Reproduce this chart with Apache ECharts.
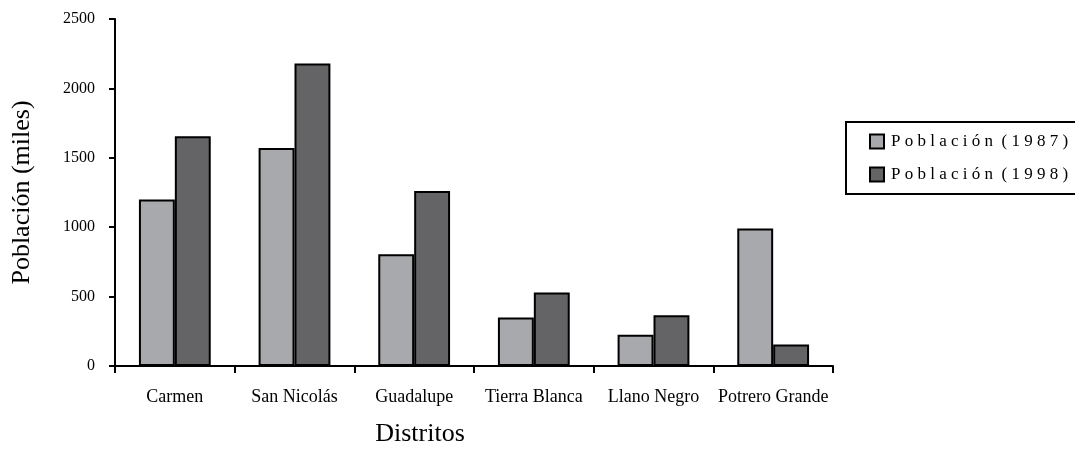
<!DOCTYPE html>
<html>
<head>
<meta charset="utf-8">
<script src="https://cdn.jsdelivr.net/npm/echarts@6/dist/echarts.min.js"></script>
<style>html,body{margin:0;padding:0;background:#fff;}#c{width:1075px;height:454px;}</style>
</head>
<body>
<div id="c"></div>
<script>
const categories = ['Carmen', 'San Nicolás', 'Guadalupe', 'Tierra Blanca', 'Llano Negro', 'Potrero Grande'];
const pop1987 = [1200, 1570, 805, 350, 225, 990];
const pop1998 = [1655, 2180, 1260, 530, 365, 155];
const seriesNames = ['P o b l a c i ó n  ( 1 9 8 7 )', 'P o b l a c i ó n  ( 1 9 9 8 )'];
const yTicks = [0, 500, 1000, 1500, 2000, 2500];

const font = 'Liberation Serif';
const chart = echarts.init(document.getElementById('c'));
chart.setOption({
  animation: false,
  backgroundColor: '#fff',
  grid: { left: 115, right: 242, top: 19, bottom: 88, containLabel: false, outerBoundsMode: 'none' },
  legend: {
    orient: 'vertical',
    left: 846, top: 122,
    padding: [11, 30, 11, 23],
    itemGap: 16,
    itemWidth: 14, itemHeight: 14,
    borderColor: '#000', borderWidth: 2,
    icon: 'rect',
    itemStyle: { borderColor: '#000', borderWidth: 2 },
    textStyle: { fontFamily: font, fontSize: 17, color: '#000', padding: [0, 0, 0, 2] },
    data: seriesNames
  },
  xAxis: {
    type: 'category',
    data: categories,
    boundaryGap: true,
    axisLine: { lineStyle: { color: '#000', width: 2 } },
    axisTick: { show: true, length: 7, alignWithLabel: false, lineStyle: { color: '#000', width: 2 } },
    axisLabel: { fontFamily: font, fontSize: 18, color: '#000', margin: 22, interval: 0 },
    name: 'Distritos',
    nameLocation: 'middle',
    nameGap: 55,
    nameTextStyle: { fontFamily: font, fontSize: 26, color: '#000', padding: [0, 108, 0, 0] }
  },
  yAxis: {
    type: 'value',
    min: 0, max: 2500, interval: 500,
    splitLine: { show: false },
    axisLine: { show: true, lineStyle: { color: '#000', width: 2 } },
    axisTick: { show: true, length: 6, lineStyle: { color: '#000', width: 2 } },
    axisLabel: { fontFamily: font, fontSize: 16, color: '#000', margin: 20,
      formatter: v => yTicks.includes(v) ? String(v) : '' },
    name: 'Población (miles)',
    nameLocation: 'middle',
    nameGap: 80,
    nameTextStyle: { fontFamily: font, fontSize: 26, color: '#000' }
  },
  series: [
    { name: seriesNames[0], type: 'bar', data: pop1987, barGap: '0%', barCategoryGap: '40%',
      itemStyle: { color: '#a8a9ac', borderColor: '#000', borderWidth: 2 } },
    { name: seriesNames[1], type: 'bar', data: pop1998,
      itemStyle: { color: '#646466', borderColor: '#000', borderWidth: 2 } }
  ]
});
</script>
</body>
</html>
